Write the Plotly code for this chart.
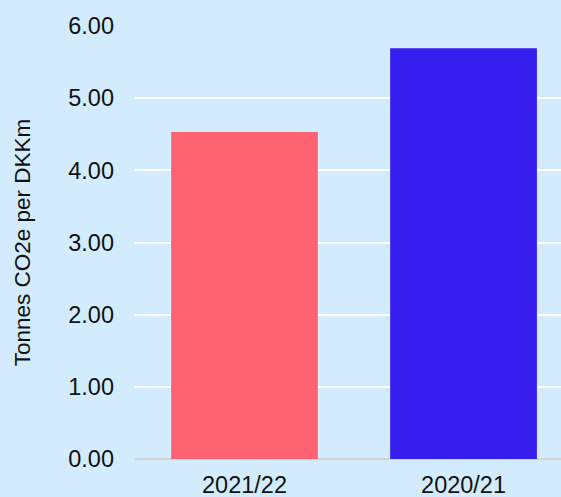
import plotly.graph_objects as go

categories = ["2021/22", "2020/21"]
values = [4.53, 5.69]
bar_colors = ["#FF6371", "#361EEE"]
tick_vals = [0, 1, 2, 3, 4, 5, 6]
tick_text = ["0.00", "1.00", "2.00", "3.00", "4.00", "5.00", "6.00"]

fig = go.Figure(
    go.Bar(
        x=categories,
        y=values,
        marker=dict(color=bar_colors, line=dict(width=0)),
        width=0.67,
    )
)

fig.update_layout(
    width=561,
    height=497,
    margin=dict(l=135, r=0, t=26, b=38),
    paper_bgcolor="#D2ECFE",
    plot_bgcolor="#D2ECFE",
    font=dict(family="Liberation Sans, Arial, sans-serif", size=22, color="#111111"),
    showlegend=False,
)
fig.update_xaxes(
    range=[-0.5, 1.445],
    showgrid=False,
    showline=False,
    zeroline=False,
    ticks="",
    ticklabelstandoff=9,
    tickfont=dict(size=23.5),
    automargin=False,
)
fig.update_yaxes(
    range=[0, 6],
    tickvals=tick_vals,
    ticktext=tick_text,
    showgrid=True,
    gridcolor="#FFFFFF",
    gridwidth=2,
    zeroline=True,
    zerolinecolor="#D3D3D3",
    zerolinewidth=2,
    ticks="",
    ticklabelstandoff=20,
    tickfont=dict(size=23.5),
    title=dict(text="Tonnes CO2e per DKKm", font=dict(size=22.5), standoff=31),
    automargin=False,
)

fig.write_html(
    "out.html",
    config={"displayModeBar": False},
    post_script="document.body.style.margin='0';document.body.style.background='#D2ECFE';",
)
